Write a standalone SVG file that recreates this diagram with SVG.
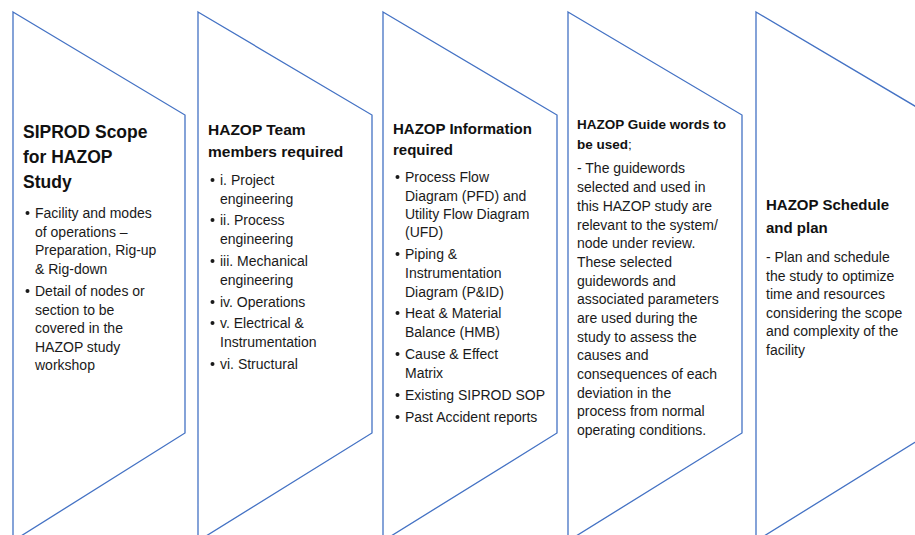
<svg xmlns="http://www.w3.org/2000/svg" width="915" height="535" viewBox="0 0 915 535">
<style>
.shape{fill:#ffffff;stroke:#4472C4;stroke-width:1.3;stroke-linejoin:miter}
.t{font-family:"Liberation Sans",Arial,sans-serif;fill:#1a1a1a}
.h{font-weight:bold;fill:#111111}
.b{font-size:14px}
.dot{fill:#1a1a1a}
</style>
<rect x="0" y="0" width="915" height="535" fill="#ffffff"/>

<g id="node-scope">
<polygon class="shape" points="13,12 185,115 185,433 13,541"/>
<text class="t h" font-size="17.5"><tspan x="23" y="138">SIPROD Scope</tspan><tspan x="23" y="163">for HAZOP</tspan><tspan x="23" y="188">Study</tspan></text>
<circle class="dot" cx="27.5" cy="213" r="2"/>
<circle class="dot" cx="27.5" cy="291" r="2"/>
<text class="t b"><tspan x="35" y="218">Facility and modes</tspan><tspan x="35" y="236.5">of operations –</tspan><tspan x="35" y="255">Preparation, Rig-up</tspan><tspan x="35" y="273.5">&amp; Rig-down</tspan><tspan x="35" y="296">Detail of nodes or</tspan><tspan x="35" y="314.5">section to be</tspan><tspan x="35" y="333">covered in the</tspan><tspan x="35" y="351.5">HAZOP study</tspan><tspan x="35" y="370">workshop</tspan></text>
</g>

<g id="node-team">
<polygon class="shape" points="198,12 372,115 372,433 198,541"/>
<text class="t h" font-size="15.5"><tspan x="208" y="135">HAZOP Team</tspan><tspan x="208" y="157">members required</tspan></text>
<circle class="dot" cx="212.5" cy="180" r="2"/>
<circle class="dot" cx="212.5" cy="220" r="2"/>
<circle class="dot" cx="212.5" cy="261" r="2"/>
<circle class="dot" cx="212.5" cy="302" r="2"/>
<circle class="dot" cx="212.5" cy="323" r="2"/>
<circle class="dot" cx="212.5" cy="364" r="2"/>
<text class="t b"><tspan x="220" y="185">i. Project</tspan><tspan x="220" y="204">engineering</tspan><tspan x="220" y="225">ii. Process</tspan><tspan x="220" y="244">engineering</tspan><tspan x="220" y="266">iii. Mechanical</tspan><tspan x="220" y="285">engineering</tspan><tspan x="220" y="307">iv. Operations</tspan><tspan x="220" y="328">v. Electrical &amp;</tspan><tspan x="220" y="347">Instrumentation</tspan><tspan x="220" y="369">vi. Structural</tspan></text>
</g>

<g id="node-information">
<polygon class="shape" points="383,12 557,115 557,433 383,541"/>
<text class="t h" font-size="15"><tspan x="393" y="134">HAZOP Information</tspan><tspan x="393" y="155">required</tspan></text>
<circle class="dot" cx="397.5" cy="177" r="2"/>
<circle class="dot" cx="397.5" cy="254" r="2"/>
<circle class="dot" cx="397.5" cy="313" r="2"/>
<circle class="dot" cx="397.5" cy="354" r="2"/>
<circle class="dot" cx="397.5" cy="395" r="2"/>
<circle class="dot" cx="397.5" cy="417" r="2"/>
<text class="t b"><tspan x="405" y="182">Process Flow</tspan><tspan x="405" y="201">Diagram (PFD) and</tspan><tspan x="405" y="219">Utility Flow Diagram</tspan><tspan x="405" y="237">(UFD)</tspan><tspan x="405" y="259">Piping &amp;</tspan><tspan x="405" y="278">Instrumentation</tspan><tspan x="405" y="297">Diagram (P&amp;ID)</tspan><tspan x="405" y="318">Heat &amp; Material</tspan><tspan x="405" y="337">Balance (HMB)</tspan><tspan x="405" y="359">Cause &amp; Effect</tspan><tspan x="405" y="378">Matrix</tspan><tspan x="405" y="400">Existing SIPROD SOP</tspan><tspan x="405" y="422">Past Accident reports</tspan></text>
</g>

<g id="node-guidewords">
<polygon class="shape" points="568,12 742,115 742,433 568,541"/>
<text class="t" font-size="13.5"><tspan x="577" y="129" class="h">HAZOP Guide words to</tspan><tspan x="577" y="149" class="h">be used</tspan><tspan>;</tspan></text>
<text class="t b"><tspan x="577" y="173">- The guidewords</tspan><tspan x="577" y="192">selected and used in</tspan><tspan x="577" y="211">this HAZOP study are</tspan><tspan x="577" y="230">relevant to the system/</tspan><tspan x="577" y="248">node under review.</tspan><tspan x="577" y="267">These selected</tspan><tspan x="577" y="286">guidewords and</tspan><tspan x="577" y="304">associated parameters</tspan><tspan x="577" y="323">are used during the</tspan><tspan x="577" y="342">study to assess the</tspan><tspan x="577" y="360">causes and</tspan><tspan x="577" y="379">consequences of each</tspan><tspan x="577" y="398">deviation in the</tspan><tspan x="577" y="416">process from normal</tspan><tspan x="577" y="435">operating conditions.</tspan></text>
</g>

<g id="node-schedule">
<polygon class="shape" points="756,12 930,115 930,433 756,541"/>
<text class="t h" font-size="15"><tspan x="766" y="210">HAZOP Schedule</tspan><tspan x="766" y="233">and plan</tspan></text>
<text class="t b"><tspan x="766" y="262">- Plan and schedule</tspan><tspan x="766" y="281">the study to optimize</tspan><tspan x="766" y="299">time and resources</tspan><tspan x="766" y="318">considering the scope</tspan><tspan x="766" y="336">and complexity of the</tspan><tspan x="766" y="355">facility</tspan></text>
</g>
</svg>
